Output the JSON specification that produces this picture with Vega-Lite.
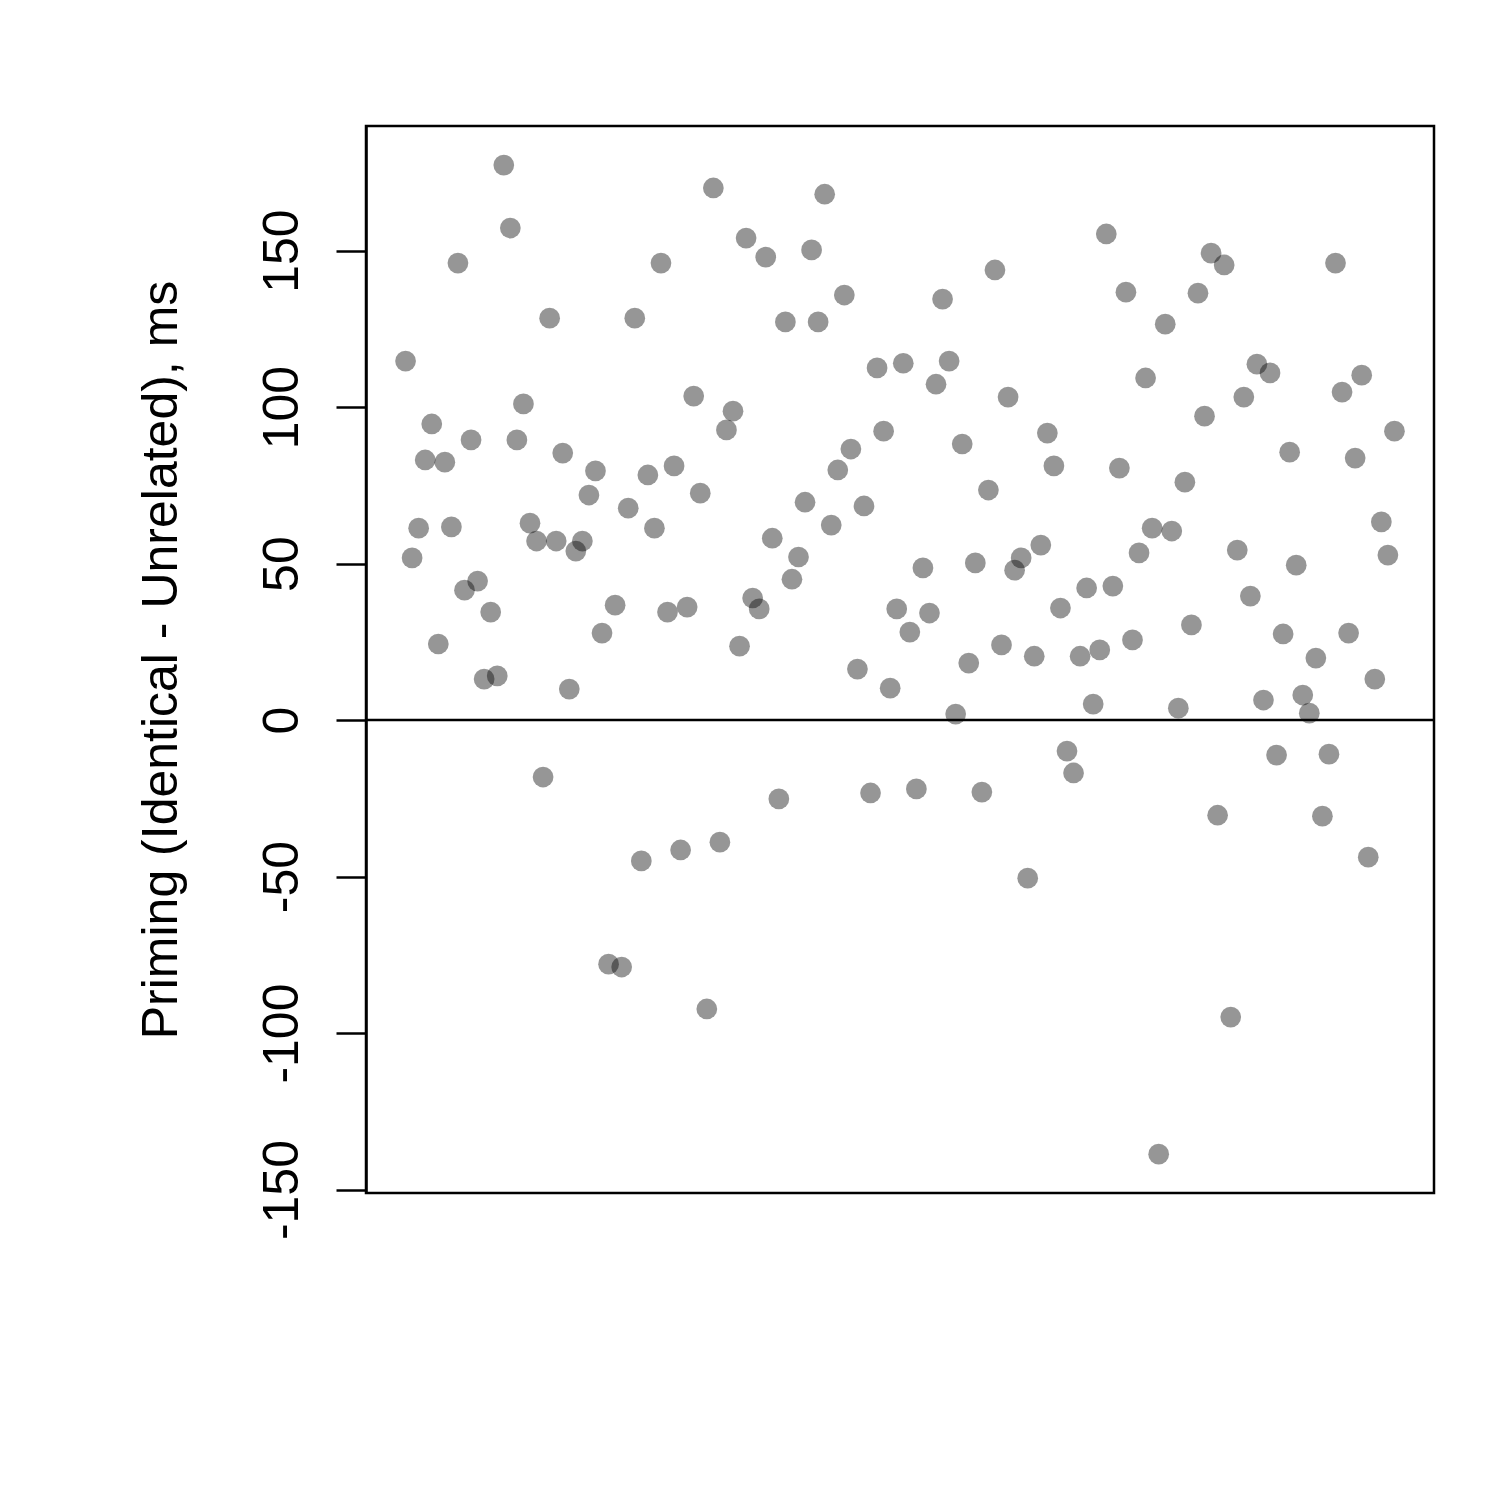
{
  "$schema": "https://vega.github.io/schema/vega-lite/v6.json",
  "width": 1068,
  "height": 1067,
  "autosize": {"type": "none"},
  "padding": {"left": 366, "top": 126, "right": 66, "bottom": 307},
  "background": "white",
  "config": {
    "view": {"stroke": "black", "strokeWidth": 2.5},
    "font": "Liberation Sans"
  },
  "layer": [
    {
      "data": {"values": [
        {"i":1,"priming":114.7},{"i":2,"priming":51.8},{"i":3,"priming":61.3},{"i":4,"priming":83.1},{"i":5,"priming":94.6},
        {"i":6,"priming":24.3},{"i":7,"priming":82.4},{"i":8,"priming":61.7},{"i":9,"priming":146.0},{"i":10,"priming":41.5},
        {"i":11,"priming":89.5},{"i":12,"priming":44.4},{"i":13,"priming":13.1},{"i":14,"priming":34.5},{"i":15,"priming":14.1},
        {"i":16,"priming":177.3},{"i":17,"priming":157.2},{"i":18,"priming":89.5},{"i":19,"priming":101.0},{"i":20,"priming":62.9},
        {"i":21,"priming":57.2},{"i":22,"priming":-18.2},{"i":23,"priming":128.4},{"i":24,"priming":57.2},{"i":25,"priming":85.3},
        {"i":26,"priming":9.9},{"i":27,"priming":54.0},{"i":28,"priming":57.2},{"i":29,"priming":71.9},{"i":30,"priming":79.6},
        {"i":31,"priming":27.8},{"i":32,"priming":-78.0},{"i":33,"priming":36.7},{"i":34,"priming":-78.9},{"i":35,"priming":67.7},
        {"i":36,"priming":128.4},{"i":37,"priming":-45.0},{"i":38,"priming":78.3},{"i":39,"priming":61.3},{"i":40,"priming":146.0},
        {"i":41,"priming":34.5},{"i":42,"priming":81.2},{"i":43,"priming":-41.5},{"i":44,"priming":36.1},{"i":45,"priming":103.5},
        {"i":46,"priming":72.5},{"i":47,"priming":-92.3},{"i":48,"priming":170.0},{"i":49,"priming":-39.0},{"i":50,"priming":92.7},
        {"i":51,"priming":98.7},{"i":52,"priming":23.6},{"i":53,"priming":154.0},{"i":54,"priming":39.0},{"i":55,"priming":35.5},
        {"i":56,"priming":147.9},{"i":57,"priming":58.1},{"i":58,"priming":-25.2},{"i":59,"priming":127.2},{"i":60,"priming":45.0},
        {"i":61,"priming":52.1},{"i":62,"priming":69.6},{"i":63,"priming":150.2},{"i":64,"priming":127.2},{"i":65,"priming":168.0},
        {"i":66,"priming":62.3},{"i":67,"priming":79.9},{"i":68,"priming":135.8},{"i":69,"priming":86.6},{"i":70,"priming":16.3},
        {"i":71,"priming":68.4},{"i":72,"priming":-23.3},{"i":73,"priming":112.5},{"i":74,"priming":92.3},{"i":75,"priming":10.2},
        {"i":76,"priming":35.5},{"i":77,"priming":114.0},{"i":78,"priming":28.1},{"i":79,"priming":-22.0},{"i":80,"priming":48.6},
        {"i":81,"priming":34.2},{"i":82,"priming":107.3},{"i":83,"priming":134.5},{"i":84,"priming":114.7},{"i":85,"priming":1.9},
        {"i":86,"priming":88.2},{"i":87,"priming":18.2},{"i":88,"priming":50.2},{"i":89,"priming":-23.0},{"i":90,"priming":73.5},
        {"i":91,"priming":143.8},{"i":92,"priming":24.0},{"i":93,"priming":103.2},{"i":94,"priming":47.9},{"i":95,"priming":51.8},
        {"i":96,"priming":-50.5},{"i":97,"priming":20.4},{"i":98,"priming":55.9},{"i":99,"priming":91.7},{"i":100,"priming":81.2},
        {"i":101,"priming":35.8},{"i":102,"priming":-9.9},{"i":103,"priming":-16.9},{"i":104,"priming":20.4},{"i":105,"priming":42.2},
        {"i":106,"priming":5.1},{"i":107,"priming":22.4},{"i":108,"priming":155.3},{"i":109,"priming":42.8},{"i":110,"priming":80.5},
        {"i":111,"priming":136.7},{"i":112,"priming":25.6},{"i":113,"priming":53.4},{"i":114,"priming":109.3},{"i":115,"priming":61.3},
        {"i":116,"priming":-138.7},{"i":117,"priming":126.5},{"i":118,"priming":60.4},{"i":119,"priming":3.8},{"i":120,"priming":76.0},
        {"i":121,"priming":30.4},{"i":122,"priming":136.4},{"i":123,"priming":97.1},{"i":124,"priming":149.2},{"i":125,"priming":-30.4},
        {"i":126,"priming":145.4},{"i":127,"priming":-94.9},{"i":128,"priming":54.3},{"i":129,"priming":103.2},{"i":130,"priming":39.6},
        {"i":131,"priming":113.7},{"i":132,"priming":6.4},{"i":133,"priming":110.9},{"i":134,"priming":-11.2},{"i":135,"priming":27.5},
        {"i":136,"priming":85.6},{"i":137,"priming":49.5},{"i":138,"priming":8.0},{"i":139,"priming":2.2},{"i":140,"priming":19.8},
        {"i":141,"priming":-30.7},{"i":142,"priming":-10.9},{"i":143,"priming":146.0},{"i":144,"priming":104.8},{"i":145,"priming":27.8},
        {"i":146,"priming":83.7},{"i":147,"priming":110.2},{"i":148,"priming":-43.8},{"i":149,"priming":13.1},{"i":150,"priming":63.3},
        {"i":151,"priming":52.7},{"i":152,"priming":92.3}
      ]},
      "mark": {"type": "circle", "size": 430, "color": "#000000", "opacity": 0.41, "strokeWidth": 0},
      "encoding": {
        "x": {"field": "i", "type": "quantitative", "scale": {"domain": [-5.04, 158.04], "nice": false, "zero": false}, "axis": null},
        "y": {
          "field": "priming", "type": "quantitative",
          "scale": {"domain": [-151.1, 189.8], "nice": false, "zero": false},
          "axis": {
            "title": "Priming (Identical - Unrelated), ms",
            "values": [-150, -100, -50, 0, 50, 100, 150],
            "labelExpr": "toString(datum.value)",
            "grid": false,
            "domainColor": "black", "domainWidth": 2.5,
            "tickColor": "black", "tickWidth": 2.5, "tickSize": 30,
            "labelFont": "Liberation Sans", "labelFontSize": 50, "labelColor": "black",
            "labelAngle": -90, "labelAlign": "center", "labelBaseline": "alphabetic", "labelPadding": 39,
            "labelOverlap": false, "labelFlush": false,
            "titleFont": "Liberation Sans", "titleFontSize": 50, "titleFontWeight": "normal", "titleColor": "black",
            "titleAngle": -90, "titleBaseline": "alphabetic", "titleAlign": "center",
            "titleX": -190, "titleY": 533.5
          }
        }
      }
    },
    {
      "data": {"values": [{"ref": 0}]},
      "mark": {"type": "rule", "color": "black", "strokeWidth": 2.5},
      "encoding": {
        "y": {"field": "ref", "type": "quantitative"}
      }
    }
  ]
}
